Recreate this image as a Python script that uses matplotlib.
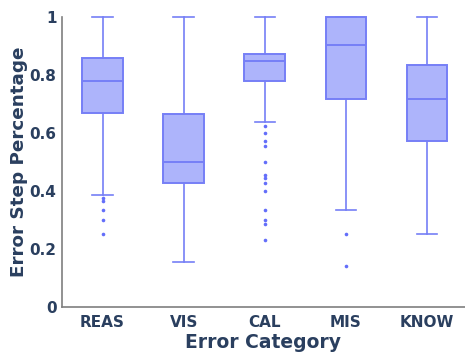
import matplotlib
matplotlib.use("Agg")
import matplotlib.pyplot as plt

# error categories and box statistics
categories = ["REAS", "VIS", "CAL", "MIS", "KNOW"]
whisker_low = [0.385, 0.154, 0.637, 0.333, 0.25]
q1 = [0.669, 0.429, 0.779, 0.716, 0.571]
median = [0.779, 0.499, 0.847, 0.902, 0.716]
q3 = [0.859, 0.667, 0.874, 1.0, 0.834]
whisker_high = [1.0, 1.0, 1.0, 1.0, 1.0]
outliers = [
    [0.375, 0.366, 0.333, 0.30, 0.251],
    [],
    [0.625, 0.601, 0.572, 0.556, 0.5, 0.455, 0.446, 0.429, 0.40,
     0.333, 0.30, 0.286, 0.231],
    [0.25, 0.143],
    [],
]
yticks = [0, 0.2, 0.4, 0.6, 0.8, 1]
ytick_labels = ["0", "0.2", "0.4", "0.6", "0.8", "1"]

text_col = "#2a3f5f"
line_col = "#767ff6"
fill_col = "#adb4fb"

stats = []
for i, name in enumerate(categories):
    stats.append(dict(label=name, whislo=whisker_low[i], q1=q1[i],
                      med=median[i], q3=q3[i], whishi=whisker_high[i],
                      fliers=outliers[i]))

fig = plt.figure(figsize=(4.65, 3.54), dpi=100)
ax = fig.add_axes([0.1333, 0.1328, 0.8667, 0.8192])

ax.bxp(stats, positions=range(len(categories)), widths=0.5,
       patch_artist=True, showfliers=True,
       boxprops=dict(facecolor=fill_col, edgecolor=line_col, linewidth=1.4),
       medianprops=dict(color=line_col, linewidth=1.4),
       whiskerprops=dict(color=line_col, linewidth=1.2),
       capprops=dict(color=line_col, linewidth=1.2),
       capwidths=0.25,
       flierprops=dict(marker="o", markersize=2.6, markerfacecolor="#636efa",
                       markeredgecolor="none", linestyle="none"))

for art in ax.get_children():
    try:
        art.set_clip_on(False)
    except Exception:
        pass

ax.set_xlim(-0.5, 4.47)
ax.set_ylim(0, 1)
ax.set_yticks(yticks)
ax.set_yticklabels(ytick_labels)
ax.tick_params(axis="y", length=0, pad=4, labelsize=11, labelcolor=text_col)
ax.tick_params(axis="x", length=0, pad=6, labelsize=11, labelcolor=text_col)
for lab in ax.get_xticklabels() + ax.get_yticklabels():
    lab.set_fontweight("bold")

for s in ["top", "right"]:
    ax.spines[s].set_visible(False)
for s in ["left", "bottom"]:
    ax.spines[s].set_color("#7f7f7f")
    ax.spines[s].set_linewidth(1.2)

ax.set_xlabel("Error Category", fontsize=13.5, fontweight="bold",
              color=text_col)
ax.set_ylabel("Error Step Percentage", fontsize=13.2, fontweight="bold",
              color=text_col)
ax.xaxis.set_label_coords(0.5, -0.124)
ax.yaxis.set_label_coords(-0.107, 0.5)
ax.yaxis.label.set_va("center")
ax.xaxis.label.set_va("center")

fig.savefig("out.png", dpi=100)
